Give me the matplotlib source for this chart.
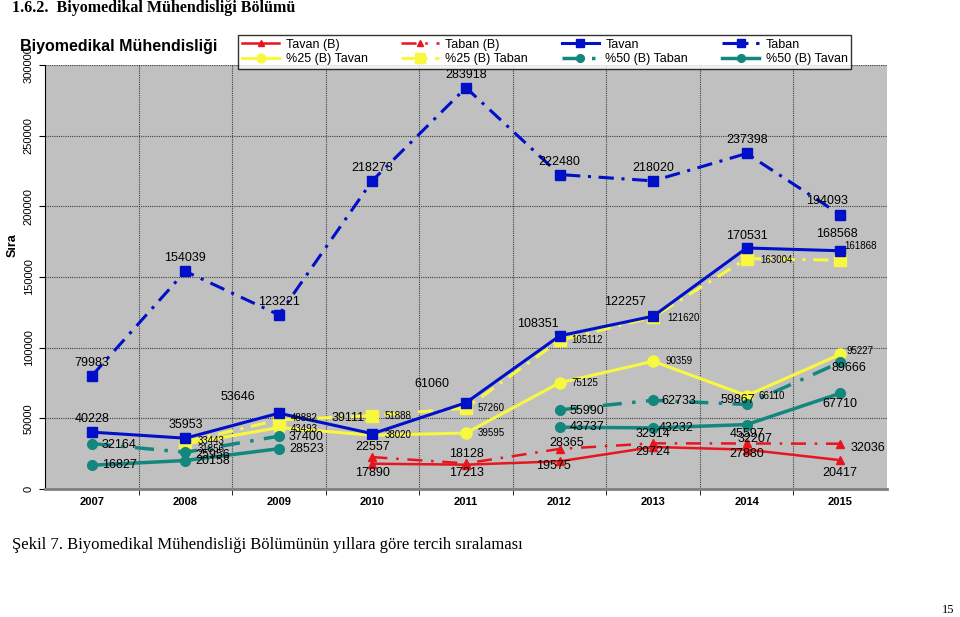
import numpy as np
import matplotlib
matplotlib.use("Agg")
import matplotlib.pyplot as plt

plt.rcParams['font.family'] = ['Liberation Sans', 'DejaVu Sans']

nan = np.nan
years = ['2007', '2008', '2009', '2010', '2011', '2012', '2013', '2014', '2015']

tavan_b = [nan, nan, nan, 17890, 17213, 19575, 29724, 27880, 20417]
taban_b = [nan, nan, nan, 22557, 18128, 28365, 32314, 32207, 32036]
tavan = [40228, 35953, 53646, 39111, 61060, 108351, 122257, 170531, 168568]
taban = [79983, 154039, 123221, 218273, 283918, 222480, 218020, 237398, 194093]
p25_tavan = [nan, 31856, 43493, 38020, 39595, 75125, 90359, 66110, 95227]
p25_taban = [nan, 33443, 48882, 51888, 57260, 105112, 121620, 163004, 161868]
p50_taban = [32164, 25956, 37400, nan, nan, 55990, 62733, 59867, 89666]
p50_tavan = [16827, 20158, 28523, nan, nan, 43737, 43232, 45597, 67710]

RED = '#E8141E'
BLUE = '#0010C8'
YEL = '#F8F840'
TEAL = '#13877E'

fig = plt.figure(figsize=(9.6, 6.17), dpi=100)
ax = fig.add_axes([45/960, 1-489/617, 842/960, 424/617])
ax.set_facecolor('#C0C0C0')
x = np.arange(len(years))

l_tb = ax.plot(x, tavan_b, color=RED, lw=1.8, marker='^', ms=6, label='Tavan (B)')[0]
l_bb = ax.plot(x, taban_b, color=RED, lw=1.8, ls=(0, (6, 3.5, 1, 3.5)), marker='^', ms=6, label='Taban (B)')[0]
l_p25t = ax.plot(x, p25_tavan, color=YEL, lw=2.2, marker='o', ms=8, label='%25 (B) Tavan')[0]
l_p25b = ax.plot(x, p25_taban, color=YEL, lw=2.2, ls=(0, (5, 2.5, 1, 2.5)), marker='s', ms=9, label='%25 (B) Taban')[0]
l_p50b = ax.plot(x, p50_taban, color=TEAL, lw=2.5, ls=(0, (5.5, 3, 1, 3)), marker='o', ms=7, label='%50 (B) Taban')[0]
l_p50t = ax.plot(x, p50_tavan, color=TEAL, lw=2.5, marker='o', ms=7, label='%50 (B) Tavan')[0]
l_tv = ax.plot(x, tavan, color=BLUE, lw=2.2, marker='s', ms=7, label='Tavan')[0]
l_tn = ax.plot(x, taban, color=BLUE, lw=2.2, ls=(0, (5, 2.5, 1, 2.5)), marker='s', ms=7, label='Taban')[0]


def labels(vals, offs, size, color='black'):
    for i, v in enumerate(vals):
        if np.isnan(v) or offs[i] is None:
            continue
        dx, dy, ha = offs[i]
        ax.annotate(str(int(v)), (i, v), xytext=(dx * 0.72, dy * 0.72), textcoords='offset points',
                    ha=ha, va='center', fontsize=size, color=color)


big = 9
small = 7
labels(tavan, [(0, 13, 'center'), (0, 13, 'center'), (-41, 16, 'center'), (-24, 16, 'center'),
               (-34, 19, 'center'), (-22, 12, 'center'), (-28, 14, 'center'), (0, 12, 'center'),
               (-3, 17, 'center')], big)
labels(taban, [(0, 13, 'center'), (0, 13, 'center'), (0, 13, 'center'), (0, 13, 'center'),
               (0, 13, 'center'), (0, 13, 'center'), (0, 13, 'center'), (0, 13, 'center'),
               (-13, 14, 'center')], big)
labels(p25_taban, [None, (12, 1, 'left'), (12, 2, 'left'), (12, 0, 'left'), (12, 0, 'left'),
                   (12, 0, 'left'), (14, -1, 'left'), (14, -1, 'left'), (4, 14, 'left')], small)
labels(p25_tavan, [None, (12, -5, 'left'), (12, -1, 'left'), (12, 0, 'left'), (12, 0, 'left'),
                   (12, 0, 'left'), (12, 0, 'left'), (12, 0, 'left'), (6, 3, 'left')], small)
labels(p50_taban, [(10, -1, 'left'), (10, -3, 'left'), (10, -1, 'left'), None, None,
                   (10, -1, 'left'), (8, -1, 'left'), (-26, 4, 'left'), (-9, -6, 'left')], big)
labels(p50_tavan, [(10, 0, 'left'), (10, 0, 'left'), (10, 0, 'left'), None, None,
                   (10, 0, 'left'), (6, 0, 'left'), (0, -9, 'center'), (0, -11, 'center')], big)
labels(taban_b, [None, None, None, (0, 10, 'center'), (0, 9, 'center'), (-10, 6, 'left'),
                 (0, 9, 'center'), (8, 4, 'center'), (10, -4, 'left')], big)
labels(tavan_b, [None, None, None, (0, -9, 'center'), (0, -8, 'center'), (-6, -5, 'center'),
                 (0, -5, 'center'), (0, -4, 'center'), (0, -13, 'center')], big)

ax.set_xlim(-0.5, len(years) - 0.5)
ax.set_ylim(0, 300000)
ax.set_yticks(np.arange(0, 300001, 50000))
ax.set_yticklabels([str(v) for v in range(0, 300001, 50000)], rotation=90, va='center', fontsize=8)
ax.set_xticks(x)
ax.set_xticklabels(years, fontsize=8, fontweight='bold')
ax.set_xticks(np.arange(0.5, len(years) - 1, 1), minor=True)
ax.tick_params(axis='x', which='major', length=0, pad=6)
ax.tick_params(axis='x', which='minor', length=4)
ax.tick_params(axis='y', length=4, pad=4)
ax.grid(True, which='minor', axis='x', color='#404040', ls=(0, (1, 1)), lw=0.8)
ax.grid(True, which='major', axis='y', color='#404040', ls=(0, (1, 1)), lw=0.8)
ax.set_axisbelow(True)
for side in ['top', 'right']:
    ax.spines[side].set_visible(False)
ax.spines['bottom'].set_color('#808080')
ax.spines['bottom'].set_linewidth(2)

fig.text(7/960, 1-245/617, 'Sıra', rotation=90, fontsize=9, fontweight='bold', va='center', ha='left')
fig.text(20/960, 1-46/617, 'Biyomedikal Mühendisliği', fontsize=11.5, fontweight='bold', va='center', ha='left')

handles = [l_tb, l_p25t, l_bb, l_p25b, l_tv, l_p50b, l_tn, l_p50t]
leg = fig.legend(handles=handles, loc='upper left', bbox_to_anchor=(238/960, 1-35/617), ncol=4,
                 fontsize=9, frameon=True, fancybox=False, edgecolor='black', handlelength=3.0,
                 handletextpad=0.5, columnspacing=2.7, borderpad=0.3, labelspacing=0.2,
                 borderaxespad=0, markerscale=0.8)
leg.get_frame().set_linewidth(1)

fig.text(12/960, 1-8/617, '1.6.2.  Biyomedikal Mühendisliği Bölümü', fontsize=11.5, fontweight='bold',
         family='Liberation Serif', va='center', ha='left')
fig.text(12/960, 1-545/617, 'Şekil 7. Biyomedikal Mühendisliği Bölümünün yıllara göre tercih sıralaması',
         fontsize=12, family='Liberation Serif', va='center', ha='left')
fig.text(948/960, 1-610/617, '15', fontsize=9, family='Liberation Serif', va='center', ha='center')

fig.savefig('out.png', dpi=100)
